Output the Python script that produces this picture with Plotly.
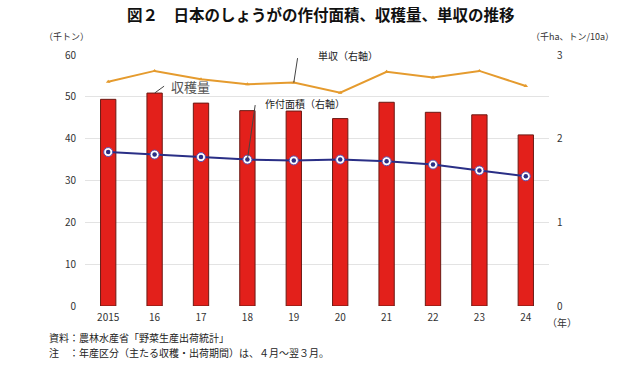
import plotly.graph_objects as go

years = ["2015", "16", "17", "18", "19", "20", "21", "22", "23", "24"]
harvest = [49.4, 50.9, 48.5, 46.7, 46.6, 44.8, 48.7, 46.3, 45.7, 40.9]      # 千トン (left)
area = [1.84, 1.81, 1.78, 1.75, 1.74, 1.75, 1.73, 1.69, 1.62, 1.55]          # 千ha (right)
yield_ = [2.68, 2.81, 2.71, 2.65, 2.67, 2.55, 2.80, 2.73, 2.81, 2.63]        # トン/10a (right)
left_ticks = [0, 10, 20, 30, 40, 50, 60]
right_ticks = [0, 1, 2, 3]

JP = "Noto Sans CJK JP"
x = list(range(len(years)))

fig = go.Figure()
fig.add_trace(go.Bar(x=x, y=harvest, width=0.33,
                     marker=dict(color="#E3201B", line=dict(color="#6b1a14", width=1)),
                     yaxis="y", showlegend=False))
fig.add_trace(go.Scatter(x=x, y=yield_, mode="lines+markers", yaxis="y2",
                         line=dict(color="#E59B2E", width=2),
                         marker=dict(symbol="triangle-up", size=4, color="#E59B2E"),
                         showlegend=False))
fig.add_trace(go.Scatter(x=x, y=area, mode="lines+markers", yaxis="y2",
                         line=dict(color="#2A2F86", width=2),
                         marker=dict(symbol="circle", size=9, color="white",
                                     line=dict(color="#5a4fb0", width=1)),
                         showlegend=False))
fig.add_trace(go.Scatter(x=x, y=area, mode="markers", yaxis="y2",
                         marker=dict(symbol="circle", size=4.5, color="#2A2F86"),
                         showlegend=False))

leader = dict(showarrow=True, arrowhead=0, arrowwidth=1, arrowcolor="#444", text="")

fig.update_layout(
    width=640, height=365,
    margin=dict(l=85, r=91, t=55, b=59),
    paper_bgcolor="white", plot_bgcolor="white",
    font=dict(family=JP, size=10, color="#333"),
    xaxis=dict(tickmode="array", tickvals=x, ticktext=years, range=[-0.5, 9.5],
               showgrid=False, zeroline=False, showline=False, ticks="",
               ticklabelstandoff=4, tickfont=dict(size=10, color="#333")),
    yaxis=dict(range=[0, 60], tickvals=left_ticks, showgrid=True, gridcolor="#e3e3e3",
               gridwidth=1, zeroline=False, ticks="", ticklabelstandoff=8,
               tickfont=dict(size=10, color="#333")),
    yaxis2=dict(range=[0, 3], tickvals=right_ticks, overlaying="y", side="right",
                showgrid=False, zeroline=False, ticks="", ticklabelstandoff=7,
                tickfont=dict(size=10, color="#333")),
    annotations=[
        dict(text="<b>図２　日本のしょうがの作付面積、収穫量、単収の推移</b>",
             xref="paper", yref="paper", x=0.5, y=1, yshift=41, xshift=4, xanchor="center",
             yanchor="middle", showarrow=False, font=dict(size=15.5, color="#111", family=JP)),
        dict(text="（千トン）", xref="paper", yref="paper", x=0, xshift=-43, y=1, yshift=19,
             xanchor="left", yanchor="middle", showarrow=False, font=dict(size=9)),
        dict(text="（千ha、トン/10a）", xref="paper", yref="paper", x=1, xshift=-20, y=1, yshift=19,
             xanchor="left", yanchor="middle", showarrow=False, font=dict(size=9)),
        dict(text="（年）", xref="paper", yref="paper", x=1, xshift=-4, y=0, yshift=-16,
             xanchor="left", yanchor="middle", showarrow=False, font=dict(size=10)),
        dict(text="資料：農林水産省「野菜生産出荷統計」", xref="paper", yref="paper",
             x=0, xshift=-38, y=0, yshift=-31, xanchor="left", yanchor="middle",
             showarrow=False, font=dict(size=10, color="#222")),
        dict(text="注　：年産区分（主たる収穫・出荷期間）は、４月～翌３月。", xref="paper", yref="paper",
             x=0, xshift=-38, y=0, yshift=-46, xanchor="left", yanchor="middle",
             showarrow=False, font=dict(size=10, color="#222")),
        # 収穫量 label
        dict(x=x[1], y=harvest[1], xref="x", yref="y", ax=11, ay=-8, **leader),
        dict(text="収穫量", x=x[1], y=harvest[1], xref="x", yref="y", xshift=14, yshift=7,
             xanchor="left", yanchor="middle", showarrow=False, font=dict(size=13, color="#555")),
        # 作付面積 label
        dict(x=x[3], y=area[3], xref="x", yref="y2", ax=8, ay=-56, **leader),
        dict(text="作付面積（右軸）", x=x[3], y=area[3], xref="x", yref="y2", xshift=16, yshift=56,
             xanchor="left", yanchor="middle", showarrow=False, font=dict(size=10, color="#222")),
        # 単収 label
        dict(x=x[4], y=yield_[4], xref="x", yref="y2", ax=4, ay=-26, **leader),
        dict(text="単収（右軸）", x=x[4], y=yield_[4], xref="x", yref="y2", xshift=22, yshift=27,
             xanchor="left", yanchor="middle", showarrow=False, font=dict(size=10, color="#222")),
    ],
)

fig.write_html("out.html", config={"displayModeBar": False},
               post_script="document.body.style.margin='0';")
